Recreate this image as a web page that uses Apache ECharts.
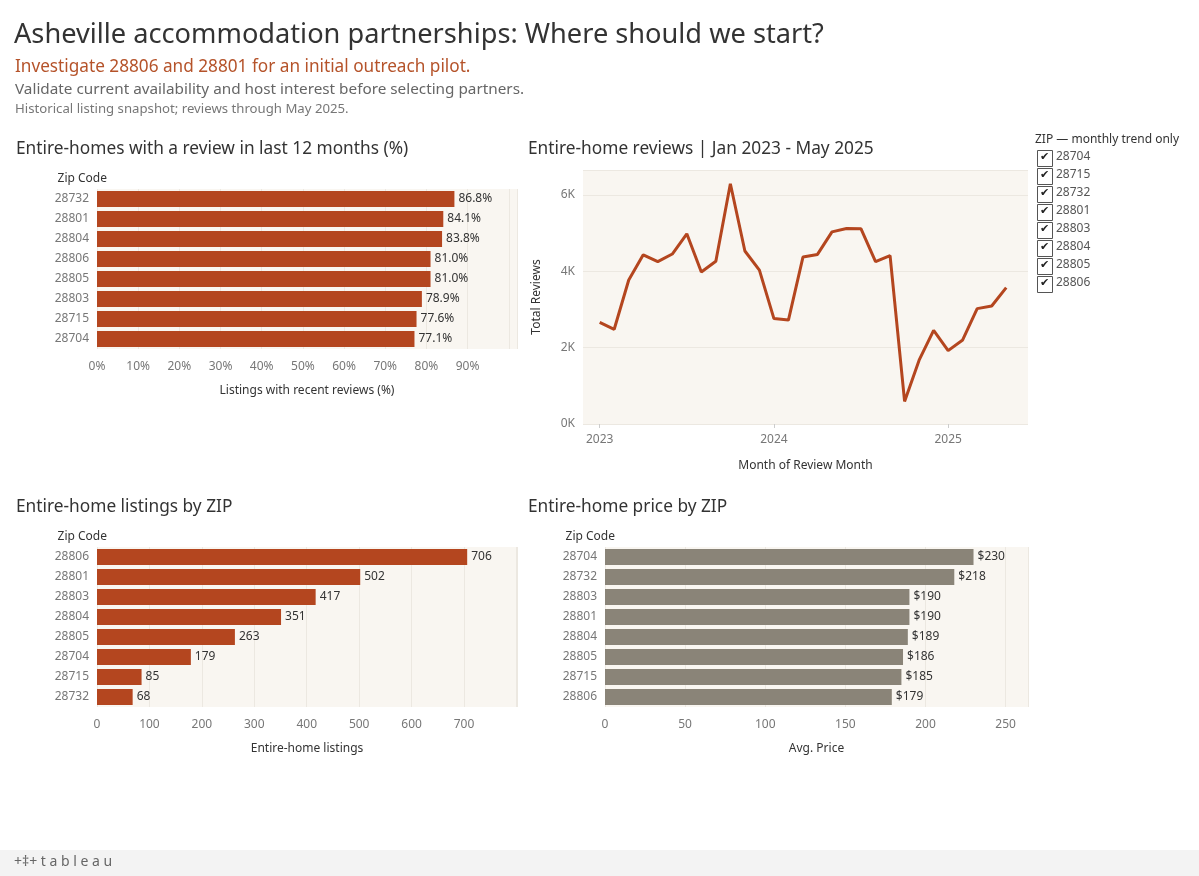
<!DOCTYPE html>
<html><head><meta charset="utf-8">
<script src="https://cdn.jsdelivr.net/npm/echarts@6/dist/echarts.min.js"></script>
<style>html,body{margin:0;padding:0;background:#fff}#c{width:1199px;height:876px}</style>
</head><body><div id="c"></div>
<script>
const recentZips = ['28732','28801','28804','28806','28805','28803','28715','28704'];
const recentPct = [86.8,84.1,83.8,81.0,81.0,78.9,77.6,77.1];
const listZips = ['28806','28801','28803','28804','28805','28704','28715','28732'];
const listCounts = [706,502,417,351,263,179,85,68];
const priceZips = ['28704','28732','28803','28801','28804','28805','28715','28806'];
const priceVals = [230,218,190,190,189,186,185,179];
const months = ['2023-01','2023-02','2023-03','2023-04','2023-05','2023-06','2023-07','2023-08','2023-09','2023-10','2023-11','2023-12',
 '2024-01','2024-02','2024-03','2024-04','2024-05','2024-06','2024-07','2024-08','2024-09','2024-10','2024-11','2024-12',
 '2025-01','2025-02','2025-03','2025-04','2025-05'];
const reviews = [2660,2480,3770,4430,4250,4450,4980,3980,4260,6290,4530,4030,2760,2720,4370,4440,5030,5120,5110,4250,4410,590,1670,2450,1920,2200,3020,3090,3570];
const legendZips = ['28704','28715','28732','28801','28803','28804','28805','28806'];

const BAR='#b4461f', GRAY='#8a8478', BG='#f9f6f1', TXT='#333', AX='#777';
const F='"Noto Sans", sans-serif';
const chart = echarts.init(document.getElementById('c'));
const gridBase = {show:true, backgroundColor:BG, borderWidth:0, containLabel:false};
function catY(idx, data){return {type:'category', gridIndex:idx, data, inverse:true, axisLine:{show:false}, axisTick:{show:false},
  axisLabel:{color:AX, fontSize:12, fontFamily:F, margin:8}, name:'Zip Code', nameLocation:'start', nameGap:4,
  nameTextStyle:{color:TXT, fontSize:12, fontFamily:F, align:'right', padding:[0,-10,0,0]}};}
function valX(idx, max, interval, name, hideFrom, fmt){return {type:'value', gridIndex:idx, min:0, max, interval, name, nameLocation:'middle', nameGap:36,
  nameTextStyle:{color:TXT, fontSize:12, fontFamily:F}, axisLine:{show:false}, axisTick:{show:false},
  splitLine:{lineStyle:{color:'#ece8e1'}}, axisLabel:{color:AX, fontSize:12, fontFamily:F, margin:12, showMaxLabel:false, formatter:v=>v>=hideFrom?'':fmt(v)}};}
const legendGraphics = [];
legendZips.forEach((z,i)=>{
  const y = 150 + i*18;
  legendGraphics.push({type:'rect', left:1037, top:y, shape:{width:15,height:16}, style:{fill:'#fff', stroke:'#555', lineWidth:1}});
  legendGraphics.push({type:'text', left:1040, top:y+1, style:{text:'✔', fill:'#222', font:'11px '+F}});
  legendGraphics.push({type:'text', left:1056, top:y+1, style:{text:z, fill:'#555', font:'12px '+F}});
});
const T=(text,left,top,size,color)=>({text,left,top,padding:0,textStyle:{fontSize:size,fontWeight:'normal',color,fontFamily:F}});
chart.setOption({
  animation:false,
  textStyle:{fontFamily:F},
  title:[
    T('Asheville accommodation partnerships: Where should we start?',14,22,27.2,'#333'),
    T('Investigate 28806 and 28801 for an initial outreach pilot.',15,59,17.2,'#b5532a'),
    T('Validate current availability and host interest before selecting partners.',15,82,15.3,'#666'),
    T('Historical listing snapshot; reviews through May 2025.',15,103,13.2,'#777'),
    T('Entire-homes with a review in last 12 months (%)',16,141,17.3,'#333'),
    T('Entire-home reviews | Jan 2023 - May 2025',528,141,17.3,'#333'),
    T('Entire-home listings by ZIP',16,499,17.3,'#333'),
    T('Entire-home price by ZIP',528,499,17.3,'#333'),
    T('ZIP — monthly trend only',1035,134,12,'#333')
  ],
  grid:[
    Object.assign({left:97, width:420, top:189, height:160}, gridBase),
    Object.assign({left:583, width:445, top:170, height:254}, gridBase),
    Object.assign({left:97, width:420, top:547, height:160}, gridBase),
    Object.assign({left:605, width:423, top:547, height:160}, gridBase)
  ],
  xAxis:[
    valX(0, 102, 10, 'Listings with recent reviews (%)', 100, v=>v+'%'),
    {type:'value', gridIndex:1, min:-1.15, max:29.5, name:'Month of Review Month', nameLocation:'middle', nameGap:36,
      nameTextStyle:{color:TXT, fontSize:12, fontFamily:F}, axisLine:{show:false}, splitLine:{show:false},
      axisTick:{show:true, customValues:[0,12,24], length:4, lineStyle:{color:'#ccc'}},
      axisLabel:{color:AX, fontSize:12, fontFamily:F, margin:10, customValues:[0,12,24], formatter:v=>String(2023+Math.round(v/12))}},
    valX(2, 801, 100, 'Entire-home listings', 800, v=>v),
    valX(3, 264, 50, 'Avg. Price', 300, v=>v)
  ],
  yAxis:[
    catY(0, recentZips),
    {type:'value', gridIndex:1, min:0, max:6650, interval:2000, name:'Total Reviews', nameLocation:'middle', nameGap:40,
      nameTextStyle:{color:TXT, fontSize:12, fontFamily:F}, axisLine:{show:false}, axisTick:{show:false},
      splitLine:{lineStyle:{color:'#ece8e1'}}, axisLabel:{color:AX, fontSize:12, fontFamily:F, showMaxLabel:false, formatter:v=>v>6000?'':(v/1000)+'K'}},
    catY(2, listZips),
    catY(3, priceZips)
  ],
  series:[
    {type:'bar', xAxisIndex:0, yAxisIndex:0, data:recentPct, barWidth:16, itemStyle:{color:BAR},
      label:{show:true, position:'right', distance:4, color:TXT, fontSize:12, fontFamily:F, formatter:p=>p.value.toFixed(1)+'%'}},
    {type:'line', xAxisIndex:1, yAxisIndex:1, data:reviews.map((v,i)=>[i,v]), symbol:'none', lineStyle:{color:BAR, width:3}},
    {type:'bar', xAxisIndex:2, yAxisIndex:2, data:listCounts, barWidth:16, itemStyle:{color:BAR},
      label:{show:true, position:'right', distance:4, color:TXT, fontSize:12, fontFamily:F}},
    {type:'bar', xAxisIndex:3, yAxisIndex:3, data:priceVals, barWidth:16, itemStyle:{color:GRAY},
      label:{show:true, position:'right', distance:4, color:TXT, fontSize:12, fontFamily:F, formatter:p=>'$'+p.value}}
  ],
  graphic: legendGraphics.concat([
    {type:'rect', left:0, top:850, shape:{width:1199,height:26}, style:{fill:'#f3f3f3'}},
    {type:'text', left:14, top:855, style:{text:'+‡+ t a b l e a u', fill:'#666', font:'14px '+F}}
  ])
});
</script></body></html>
